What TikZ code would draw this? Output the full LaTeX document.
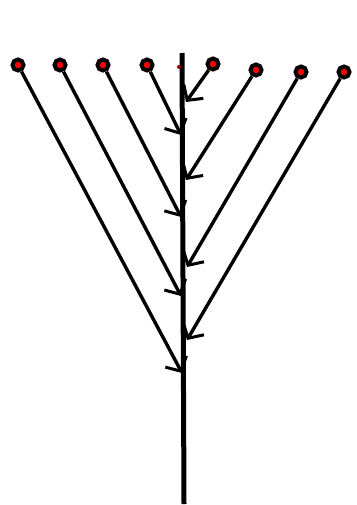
\documentclass[tikz,border=0pt]{standalone}
\usetikzlibrary{arrows.meta}
\begin{document}
\begin{tikzpicture}[x=1pt,y=-1pt,
  dot/.style={circle, draw=black, fill=red, line width=4pt, minimum size=11pt, inner sep=0pt},
  smalldot/.style={circle, fill=red!60!black, minimum size=4pt, inner sep=0pt},
  branch/.style={line width=3.4pt, -{Straight Barb[length=11pt,width=24pt,line width=3pt]}},
  trunkline/.style={line width=5pt}]
\useasboundingbox (0,0) rectangle (356,505);
% trunk
\coordinate (top) at (182,53);
\coordinate (bot) at (184,504);
\draw[trunkline] (top) -- (bot);
% dots
\node[dot] (d1) at (18,65) {};
\node[dot] (d2) at (60,65) {};
\node[dot] (d3) at (103,65) {};
\node[dot] (d4) at (147,65) {};
\node[smalldot] (d5) at (179,67) {};
\node[dot] (d6) at (213,64) {};
\node[dot] (d7) at (256,70) {};
\node[dot] (d8) at (301,72) {};
\node[dot] (d9) at (344,72) {};
% arrow tips on trunk
\coordinate (t4) at (181,135);
\coordinate (t3) at (181,217);
\coordinate (t2) at (181,296);
\coordinate (t1) at (182,373);
\coordinate (t6) at (186,102);
\coordinate (t7) at (186,180);
\coordinate (t8) at (187,267);
\coordinate (t9) at (187,340);
\draw[branch] (d1) -- (t1);
\draw[branch] (d2) -- (t2);
\draw[branch] (d3) -- (t3);
\draw[branch] (d4) -- (t4);
\draw[branch] (d6) -- (t6);
\draw[branch] (d7) -- (t7);
\draw[branch] (d8) -- (t8);
\draw[branch] (d9) -- (t9);
\end{tikzpicture}
\end{document}
